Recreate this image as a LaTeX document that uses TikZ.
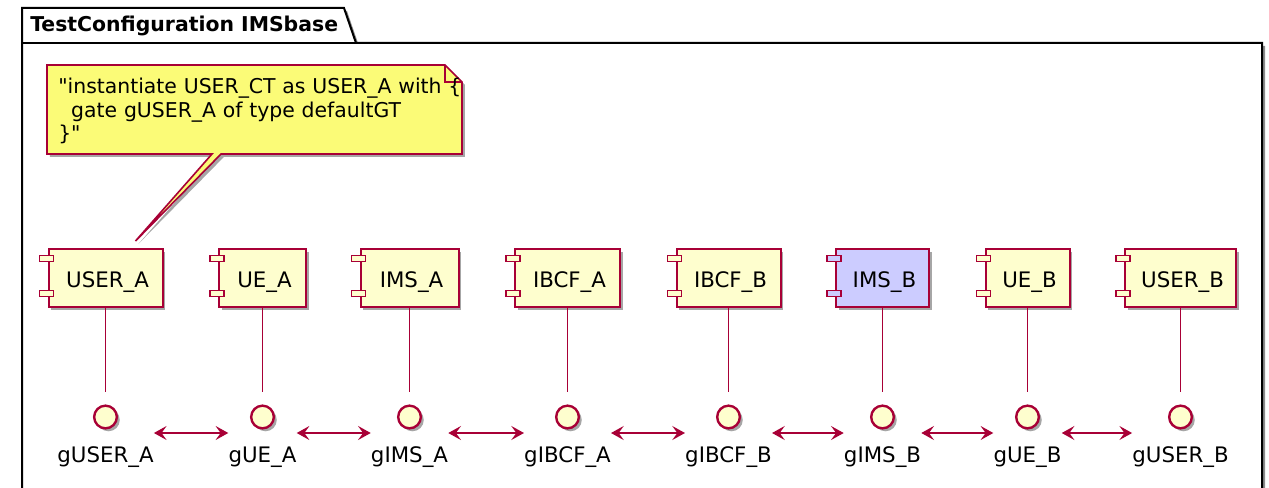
\documentclass[tikz,border=0pt]{standalone}
\usepackage{fontspec}
\setmainfont{DejaVu Sans}
\usetikzlibrary{shadows,arrows.meta,calc}
\definecolor{pumlred}{HTML}{A80036}
\definecolor{pumlfill}{HTML}{FEFECE}
\definecolor{pumlblue}{HTML}{CCCCFF}
\definecolor{notefill}{HTML}{FBFB77}
\newcommand\sq{\XeTeXglyph\XeTeXglyphindex "quotedbl"\relax}
\tikzset{
  every node/.style={font=\fontsize{16}{17.6}\selectfont},
  shd/.style={drop shadow={shadow xshift=2.2pt, shadow yshift=-2.2pt, opacity=0.35, fill=black}},
  comp/.style={draw=pumlred, line width=1.5pt, minimum height=43.5pt, inner sep=0pt,
    text height=13.5pt, text depth=0pt, shd},
  compsmall/.style={draw=pumlred, line width=1.2pt},
  iface/.style={circle, draw=pumlred, fill=pumlfill, line width=1.8pt, minimum size=17pt, inner sep=0pt, shd},
  lbl/.style={inner sep=0pt, anchor=base},
  link/.style={draw=pumlred, line width=1.3pt},
  arr/.style={draw=pumlred, line width=1.2pt,
    {Stealth[length=9.5pt,width=10.5pt,inset=3.8pt]}-{Stealth[length=9.5pt,width=10.5pt,inset=3.8pt]}},
  frameline/.style={draw=black, line width=1.5pt},
  notetext/.style={font=\fontsize{15.3}{17.6}\selectfont, anchor=base west, text width=340pt, align=left, inner sep=0pt},
}
\newcommand\umlcomp[5]{%
  \node[comp, fill=#5, minimum width=#3*0.75pt] (#1) at (#2,278) {\hspace*{3pt}#4};
  \filldraw[compsmall, fill=#5] ($(#1.north west)+(-8,7.5)$) rectangle ++(14,6);
  \filldraw[compsmall, fill=#5] ($(#1.north west)+(-8,42.5)$) rectangle ++(14,6);
}
\newcommand\umliface[4]{% name, x, label name, label text
  \node[iface] (#1) at (#2,417) {};
  \node[lbl] (#3) at (#2,462.5) {#4};
}
\begin{document}
\begin{tikzpicture}[x=0.75pt,y=-0.75pt]
\useasboundingbox (0,0) rectangle (1269,488);
% package frame with tab
\fill[black, opacity=0.45] (25,500) -- (25,11) -- (347,11) -- (359,46) -- (1265,46) -- (1265,500) -- cycle;
\filldraw[frameline, fill=white] (22,500) -- (22,8) -- (344,8) -- (356,43) -- (1262,43) -- (1262,500) -- cycle;
\draw[frameline] (22,43) -- (356,43);
\node[font=\bfseries\fontsize{15.3}{17.6}\selectfont, anchor=base west, inner sep=0pt] (title) at (30,31.5) {TestConfiguration IMSbase};

% components
\umlcomp{userA}{105.5}{114}{USER\_A}{pumlfill}
\umlcomp{ueA}{262.5}{87}{UE\_A}{pumlfill}
\umlcomp{imsA}{409.5}{98}{IMS\_A}{pumlfill}
\umlcomp{ibcfA}{567.5}{105}{IBCF\_A}{pumlfill}
\umlcomp{ibcfB}{728.5}{104}{IBCF\_B}{pumlfill}
\umlcomp{imsB}{882.5}{93}{IMS\_B}{pumlblue}
\umlcomp{ueB}{1027.5}{84}{UE\_B}{pumlfill}
\umlcomp{userB}{1180.5}{111}{USER\_B}{pumlfill}

% note
\coordinate (tip) at ($(userA.north)+(30,-7)$);
\filldraw[fill=notefill, draw=pumlred, line width=1.2pt, shd]
  (47,65) -- (445,65) -- (462,82) -- (462,154) -- (221,154) -- (tip) -- (212,154) -- (47,154) -- cycle;
\draw[pumlred, line width=1.2pt] (445,65) -- (445,82) -- (462,82);
\node[notetext] (note) at (58,94)
  {\sq instantiate USER\_CT as USER\_A with \{\\\hspace*{0.636em}gate gUSER\_A of type defaultGT\\\}\sq};

% interfaces
\umliface{iuserA}{105.5}{luserA}{gUSER\_A}
\umliface{iueA}{262.5}{lueA}{gUE\_A}
\umliface{iimsA}{409.5}{limsA}{gIMS\_A}
\umliface{iibcfA}{567.5}{libcfA}{gIBCF\_A}
\umliface{iibcfB}{728.5}{libcfB}{gIBCF\_B}
\umliface{iimsB}{882.5}{limsB}{gIMS\_B}
\umliface{iueB}{1027.5}{lueB}{gUE\_B}
\umliface{iuserB}{1180.5}{luserB}{gUSER\_B}

% component to interface links
\foreach \c/\i in {userA/iuserA, ueA/iueA, imsA/iimsA, ibcfA/iibcfA, ibcfB/iibcfB, imsB/iimsB, ueB/iueB, userB/iuserB}
  \draw[link, shorten >=9pt] (\c) -- (\i);

% gate connections
\coordinate (ay) at (0,433);
\foreach \a/\b in {luserA/lueA, lueA/limsA, limsA/libcfA, libcfA/libcfB, libcfB/limsB, limsB/lueB, lueB/luserB}
  \draw[arr] (\a.east |- ay) -- (\b.west |- ay);
\end{tikzpicture}
\end{document}
